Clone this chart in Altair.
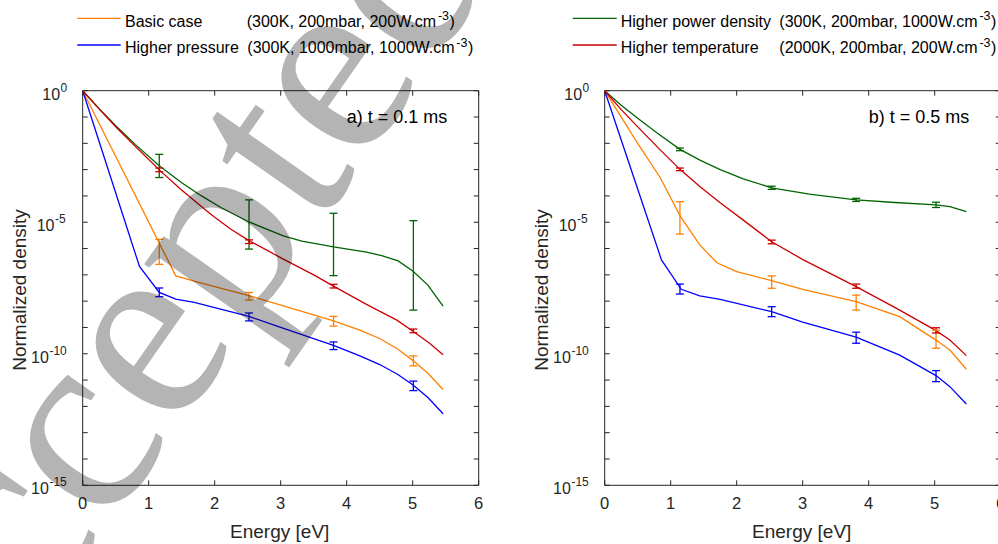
import math
import altair as alt
import pandas as pd

# ---------------- data (log10 of normalized density) ----------------
SERIES = ["Basic case", "Higher pressure", "Higher power density", "Higher temperature"]
COLORS = ["#FF8000", "#0000FF", "#006400", "#CC0000"]
PARAMS = ["(300K, 200mbar, 200W.cm", "(300K, 1000mbar, 1000W.cm",
          "(300K, 200mbar, 1000W.cm", "(2000K, 200mbar, 200W.cm"]
PARAM_SUP = "-3"
PANEL_TAGS = ["a) t = 0.1 ms", "b) t = 0.5 ms"]
WATERMARK = "Accepted"

X_TICKS = [0, 1, 2, 3, 4, 5, 6]
Y_TICK_EXP = [0, -1, -2, -3, -4, -5, -6, -7, -8, -9, -10, -11, -12, -13, -14, -15]
Y_LABEL_EXP = [0, -5, -10, -15]

# panel a (t = 0.1 ms)
A_ORANGE_E = [0, 1.41, 1.69, 2.0, 2.52, 3.0, 3.5, 3.80, 4.2, 4.50, 4.77, 5.01, 5.23, 5.46]
A_ORANGE_L = [0, -7.04, -7.24, -7.45, -7.79, -8.15, -8.52, -8.75, -9.10, -9.42, -9.82, -10.27, -10.74, -11.36]
A_BLUE_E = [0, 0.86, 1.16, 1.41, 1.69, 2.0, 2.52, 3.0, 3.5, 3.80, 4.2, 4.50, 4.77, 5.01, 5.23, 5.46]
A_BLUE_L = [0, -6.68, -7.67, -7.92, -8.05, -8.25, -8.58, -9.0, -9.42, -9.68, -10.08, -10.41, -10.78, -11.20, -11.66, -12.28]
A_GREEN_E = [0, 0.25, 0.5, 0.8, 1.16, 1.5, 1.8, 2.1, 2.52, 3.04, 3.32, 3.80, 4.30, 4.53, 4.78, 5.01, 5.23, 5.46]
A_GREEN_L = [0, -0.68, -1.33, -2.05, -2.85, -3.5, -4.0, -4.45, -4.99, -5.52, -5.72, -5.94, -6.14, -6.27, -6.47, -6.87, -7.39, -8.19]
A_RED_E = [0, 0.25, 0.5, 0.8, 1.16, 1.48, 1.94, 2.24, 2.52, 3.04, 3.50, 3.80, 4.30, 4.76, 5.01, 5.26, 5.46]
A_RED_L = [0, -0.70, -1.37, -2.12, -3.01, -3.74, -4.70, -5.26, -5.70, -6.40, -7.00, -7.43, -8.12, -8.72, -9.15, -9.61, -10.04]

A_ERR_E = [1.16, 2.52, 3.80, 5.01]
A_ORANGE_HI = [-5.65, -7.67, -8.58, -10.08]
A_ORANGE_LO = [-6.60, -7.96, -8.95, -10.46]
A_BLUE_HI = [-7.50, -8.45, -9.55, -11.04]
A_BLUE_LO = [-7.83, -8.75, -9.84, -11.40]
A_GREEN_HI = [-2.42, -4.15, -4.66, -4.94]
A_GREEN_LO = [-3.30, -6.02, -7.03, -8.34]
A_RED_HI = [-2.94, -5.67, -7.36, -9.06]
A_RED_LO = [-3.08, -5.81, -7.50, -9.20]

# panel b (t = 0.5 ms)
B_ORANGE_E = [0, 0.5, 0.84, 1.14, 1.44, 1.70, 2.0, 2.53, 3.0, 3.81, 4.47, 5.02, 5.23, 5.48]
B_ORANGE_L = [0, -2.0, -3.3, -4.75, -5.86, -6.54, -6.88, -7.22, -7.55, -8.02, -8.59, -9.48, -9.86, -10.59]
B_BLUE_E = [0, 0.86, 1.16, 1.44, 1.75, 2.53, 3.0, 3.81, 4.47, 5.02, 5.23, 5.48]
B_BLUE_L = [0, -6.43, -7.55, -7.80, -7.93, -8.40, -8.8, -9.37, -10.05, -10.83, -11.25, -11.91]
B_GREEN_E = [0, 0.25, 0.5, 0.8, 1.14, 1.45, 1.75, 2.1, 2.53, 3.1, 3.81, 4.4, 5.02, 5.23, 5.48]
B_GREEN_L = [0, -0.55, -1.05, -1.62, -2.23, -2.65, -3.0, -3.35, -3.69, -3.93, -4.15, -4.25, -4.34, -4.41, -4.6]
B_RED_E = [0, 0.25, 0.53, 0.84, 1.14, 1.45, 1.75, 2.1, 2.53, 3.01, 3.81, 4.47, 5.02, 5.23, 5.48]
B_RED_L = [0, -0.72, -1.45, -2.25, -2.99, -3.66, -4.26, -4.92, -5.74, -6.43, -7.45, -8.34, -9.12, -9.48, -10.07]

B_ERR_E = [1.14, 2.53, 3.81, 5.02]
B_ORANGE_HI = [-4.22, -7.04, -7.77, -9.10]
B_ORANGE_LO = [-5.45, -7.51, -8.34, -9.79]
B_BLUE_HI = [-7.35, -8.21, -9.18, -10.64]
B_BLUE_LO = [-7.73, -8.59, -9.60, -11.06]
B_GREEN_HI = [-2.18, -3.63, -4.09, -4.24]
B_GREEN_LO = [-2.28, -3.75, -4.21, -4.44]
B_RED_HI = [-2.94, -5.68, -7.35, -9.01]
B_RED_LO = [-3.04, -5.82, -7.51, -9.21]

# ---------------- layout / style ----------------
FONT = "Liberation Sans"
AX = "#262626"
PANEL_X = [[82.7, 478.7], [604.7, 1000.7]]
Y_RANGE = [485.3, 90.7]
LW = 1.3
ONE = pd.DataFrame({"k": [0]})

# Arial / Liberation Sans advance widths (em) for laying out superscripts
_W = {"(": .333, ")": .333, "K": .667, ",": .278, " ": .278, "m": .833, "b": .556, "a": .556,
      "r": .333, "W": .944, ".": .278, "c": .5, "-": .333}
# Times / Liberation Serif advance widths (em) for the watermark letters
_WS = {"A": .722, "c": .444, "e": .444, "p": .5, "t": .278, "d": .5}


def text_width(s, size):
    return sum(_W.get(ch, .556) for ch in s) * size


def lines_frame(curves):
    rows = []
    for s, E, L in curves:
        for e, l in zip(E, L):
            rows.append({"series": s, "E": e, "d": 10.0 ** l})
    return pd.DataFrame(rows)


def err_frame(E, bars):
    rows = []
    for s, HI, LO in bars:
        for e, h, l in zip(E, HI, LO):
            rows.append({"series": s, "E": e, "hi": 10.0 ** h, "lo": 10.0 ** l})
    return pd.DataFrame(rows)


def panel(xr, ldf, edf, tag):
    xs = alt.Scale(domain=[0, 6], range=xr, nice=False, zero=False)
    ys = alt.Scale(type="log", domain=[1e-15, 1], range=Y_RANGE, nice=False)
    col = alt.Color("series:N", scale=alt.Scale(domain=SERIES, range=COLORS), legend=None)

    def X(f):
        return alt.X(f, type="quantitative", scale=xs, axis=None)

    def Y(f):
        return alt.Y(f, type="quantitative", scale=ys, axis=None)

    xt = pd.DataFrame({"t": X_TICKS, "lo": [1e-15] * len(X_TICKS), "hi": [1.0] * len(X_TICKS)})
    yt = pd.DataFrame({"v": [10.0 ** e for e in Y_TICK_EXP], "l": [0] * len(Y_TICK_EXP),
                       "r": [6] * len(Y_TICK_EXP)})
    layers = []
    # frame
    layers.append(alt.Chart(pd.DataFrame({"a": [0], "b": [6], "lo": [1e-15], "hi": [1.0]}))
                  .mark_rect(fillOpacity=0, stroke=AX, strokeWidth=1)
                  .encode(x=X("a"), x2="b", y=Y("lo"), y2="hi"))
    # x ticks bottom / top (inward)
    layers.append(alt.Chart(xt).mark_rule(color=AX, strokeWidth=1, y2Offset=-5)
                  .encode(x=X("t"), y=Y("lo"), y2="lo"))
    layers.append(alt.Chart(xt).mark_rule(color=AX, strokeWidth=1, y2Offset=5)
                  .encode(x=X("t"), y=Y("hi"), y2="hi"))
    # y ticks left / right (inward)
    layers.append(alt.Chart(yt).mark_rule(color=AX, strokeWidth=1, x2Offset=5)
                  .encode(y=Y("v"), x=X("l"), x2="l"))
    layers.append(alt.Chart(yt).mark_rule(color=AX, strokeWidth=1, x2Offset=-5)
                  .encode(y=Y("v"), x=X("r"), x2="r"))
    # x tick labels
    layers.append(alt.Chart(xt).mark_text(font=FONT, fontSize=16.5, color=AX, baseline="middle", dy=19)
                  .encode(x=X("t"), y=Y("lo"), text="t:N"))
    # y tick labels 10^n
    for e in Y_LABEL_EXP:
        s = str(e)
        off = 17 + 5.6 * len(s)
        d = pd.DataFrame({"v": [10.0 ** e], "ex": [s], "l": [0]})
        layers.append(alt.Chart(d).mark_text(font=FONT, fontSize=16, color=AX, align="right",
                                             baseline="middle", dx=-off, dy=4)
                      .encode(x=X("l"), y=Y("v"), text=alt.value("10")))
        layers.append(alt.Chart(d).mark_text(font=FONT, fontSize=12, color=AX, align="left",
                                             baseline="middle", dx=-off + 0.5, dy=-3)
                      .encode(x=X("l"), y=Y("v"), text="ex:N"))
    # curves
    layers.append(alt.Chart(ldf).mark_line(strokeWidth=LW)
                  .encode(x=X("E"), y=Y("d"), color=col, detail="series:N", order="E:Q"))
    # error bars
    layers.append(alt.Chart(edf).mark_rule(strokeWidth=LW)
                  .encode(x=X("E"), y=Y("lo"), y2="hi", color=col))
    for f in ["lo", "hi"]:
        layers.append(alt.Chart(edf).mark_rule(strokeWidth=LW, xOffset=-4, x2Offset=4)
                      .encode(x=X("E"), x2="E", y=Y(f), color=col))
    # titles and annotation
    layers.append(alt.Chart(ONE).mark_text(font=FONT, fontSize=19, color=AX, baseline="middle")
                  .encode(x=alt.value(xr[0] + 197), y=alt.value(531.7), text=alt.value("Energy [eV]")))
    layers.append(alt.Chart(ONE).mark_text(font=FONT, fontSize=19, color=AX, baseline="middle", angle=270)
                  .encode(x=alt.value(xr[0] - 63), y=alt.value(290), text=alt.value("Normalized density")))
    layers.append(alt.Chart(ONE).mark_text(font=FONT, fontSize=18, color="black", align="left", baseline="middle")
                  .encode(x=alt.value(xr[0] + 264), y=alt.value(118.3), text=alt.value(tag)))
    return alt.layer(*layers)


A_lines = lines_frame([(SERIES[0], A_ORANGE_E, A_ORANGE_L), (SERIES[1], A_BLUE_E, A_BLUE_L),
                       (SERIES[2], A_GREEN_E, A_GREEN_L), (SERIES[3], A_RED_E, A_RED_L)])
A_err = err_frame(A_ERR_E, [(SERIES[0], A_ORANGE_HI, A_ORANGE_LO), (SERIES[1], A_BLUE_HI, A_BLUE_LO),
                            (SERIES[2], A_GREEN_HI, A_GREEN_LO), (SERIES[3], A_RED_HI, A_RED_LO)])
B_lines = lines_frame([(SERIES[0], B_ORANGE_E, B_ORANGE_L), (SERIES[1], B_BLUE_E, B_BLUE_L),
                       (SERIES[2], B_GREEN_E, B_GREEN_L), (SERIES[3], B_RED_E, B_RED_L)])
B_err = err_frame(B_ERR_E, [(SERIES[0], B_ORANGE_HI, B_ORANGE_LO), (SERIES[1], B_BLUE_HI, B_BLUE_LO),
                            (SERIES[2], B_GREEN_HI, B_GREEN_LO), (SERIES[3], B_RED_HI, B_RED_LO)])

pa = panel(PANEL_X[0], A_lines, A_err, PANEL_TAGS[0])
pb = panel(PANEL_X[1], B_lines, B_err, PANEL_TAGS[1])

# legend (two blocks)
LEG = [  # (series index, line x0, line x1, name x, params x, row)
    (0, 77.3, 120.7, 125, 246.7, 0),
    (1, 77.3, 120.7, 125, 247.3, 1),
    (2, 572.7, 616.7, 620.7, 779.3, 0),
    (3, 572.7, 616.7, 620.7, 779.3, 1),
]
LEG_FS = 16
SUP_FS = 12.5
leg_layers = []
for i, x0, x1, xn, xp, row in LEG:
    yl = 18.3 + 26.7 * row
    yb = 26.7 + 26.7 * row
    xs_ = xp + text_width(PARAMS[i], LEG_FS)
    xc_ = xs_ + text_width(PARAM_SUP, SUP_FS) + 0.5
    leg_layers.append(alt.Chart(ONE).mark_rule(strokeWidth=LW, color=COLORS[i])
                      .encode(x=alt.value(x0), x2=alt.value(x1), y=alt.value(yl)))
    for txt, x, y, fs in [(SERIES[i], xn, yb, LEG_FS), (PARAMS[i], xp, yb, LEG_FS),
                          (PARAM_SUP, xs_, yb - 6.5, SUP_FS), (")", xc_, yb, LEG_FS)]:
        leg_layers.append(alt.Chart(ONE).mark_text(font=FONT, fontSize=fs, color="black", align="left",
                                                   baseline="alphabetic")
                          .encode(x=alt.value(x), y=alt.value(y), text=alt.value(txt)))

# watermark: letters laid out one by one along a rotated baseline
WM_SIZE = 265
WM_DEG = 55
WM_CENTER = (215.2, 374.7)   # baseline point at the middle of the word
ux, uy = math.cos(math.radians(WM_DEG)), -math.sin(math.radians(WM_DEG))
total = sum(_WS[ch] for ch in WATERMARK)
acc = 0.0
wm_layers = []
for ch in WATERMARK:
    mid = acc + _WS[ch] / 2 - total / 2
    acc += _WS[ch]
    px = WM_CENTER[0] + mid * WM_SIZE * ux
    py = WM_CENTER[1] + mid * WM_SIZE * uy
    wm_layers.append(alt.Chart(ONE).mark_text(font="Liberation Serif", fontSize=WM_SIZE, color="black",
                                              opacity=0.29, angle=360 - WM_DEG, align="center",
                                              baseline="alphabetic")
                     .encode(x=alt.value(px), y=alt.value(py), text=alt.value(ch)))

chart = alt.layer(pa, pb, *leg_layers, *wm_layers).resolve_scale(
    x="independent", y="independent"
).properties(
    width=998, height=544, padding=0, autosize=alt.AutoSizeParams(type="none")
).configure_view(strokeWidth=0)

chart.save("out.html", embed_options={"renderer": "svg", "actions": False})
